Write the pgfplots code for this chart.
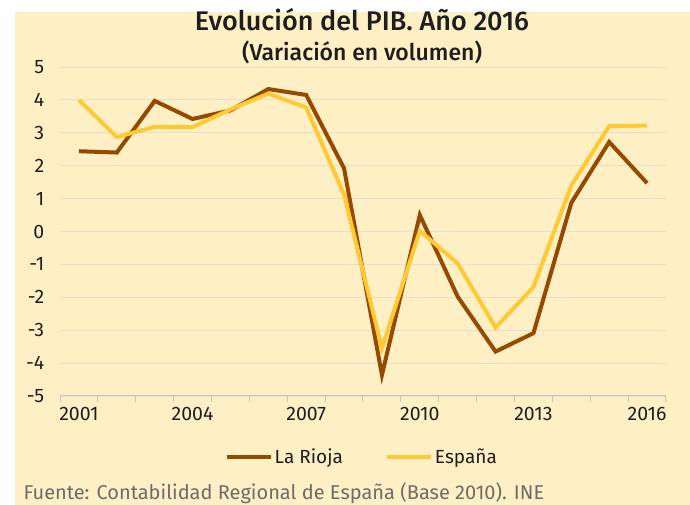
\documentclass[border=0pt]{standalone}
\usepackage{fontspec}
\setmainfont{Fira Sans}
\newfontfamily\titlefont{Fira Sans Medium}
\usepackage{pgfplots}
\pgfplotsset{compat=1.18}
\definecolor{bg}{HTML}{FFEFC4}
\definecolor{rioja}{HTML}{954A00}
\definecolor{espana}{HTML}{FFC933}
\definecolor{gridc}{HTML}{E6DFCD}
\definecolor{txt}{HTML}{1E1E1E}

\begin{document}
\begin{tikzpicture}[x=1pt,y=1pt]
\path[use as bounding box] (0,0) rectangle (690,505);
\fill[bg] (15,0) rectangle (690,493);
\node[txt,font=\titlefont\fontsize{27}{30}\selectfont] at (362,485) {Evolución del PIB. Año 2016};
\node[txt,font=\titlefont\fontsize{23}{26}\selectfont] at (362,453) {(Variación en volumen)};
\node[gray!85!black,anchor=base west,font=\fontsize{20}{22}\selectfont] at (20,5) {Fuente: Contabilidad Regional de España (Base 2010). INE};
\begin{axis}[
    at={(60pt,109pt)}, anchor=south west,
    scale only axis, width=606pt, height=329pt,
    xmin=2000.5, xmax=2016.5, ymin=-5, ymax=5,
    xtick={2001,2004,2007,2010,2013,2016},
    minor xtick={2000.5,2001.5,...,2016.5},
    ytick={-5,-4,...,5},
    axis x line*=bottom, axis y line*=left,
    y axis line style={draw=none},
    x axis line style={draw=gray!45, line width=1pt},
    major x tick style={draw=none},
    minor x tick style={draw=gray!45, line width=1pt},
    minor tick length=6pt, tick align=outside,
    major y tick style={draw=none},
    ymajorgrids, grid style={gridc, line width=0.8pt},
    x tick label style={/pgf/number format/1000 sep={}, yshift=-3pt},
    yticklabel style={xshift=-8pt},
    ticklabel style={font=\fontsize{19.5}{22}\selectfont, txt},
    /pgf/number format/assume math mode=true,
    legend style={at={(0.498,-0.185)}, anchor=center, draw=none, fill=none,
        font=\fontsize{19}{21}\selectfont, text=txt,
        /tikz/every even column/.append style={column sep=40pt}},
    legend columns=2,
    legend image code/.code={\draw[#1] (0pt,0pt) -- (44pt,0pt);},
    clip=false,
]
\addplot[rioja, line width=4pt] coordinates {
 (2001,2.44) (2002,2.40) (2003,3.97) (2004,3.42) (2005,3.68) (2006,4.33)
 (2007,4.15) (2008,1.92) (2009,-4.36) (2010,0.50) (2011,-1.98) (2012,-3.65)
 (2013,-3.09) (2014,0.87) (2015,2.72) (2016,1.47)
};
\addlegendentry{La Rioja}
\addplot[espana, line width=4pt] coordinates {
 (2001,4.00) (2002,2.87) (2003,3.18) (2004,3.17) (2005,3.71) (2006,4.19)
 (2007,3.77) (2008,1.12) (2009,-3.55) (2010,0.02) (2011,-0.97) (2012,-2.92)
 (2013,-1.69) (2014,1.40) (2015,3.20) (2016,3.22)
};
\addlegendentry{España}
\end{axis}
\end{tikzpicture}
\end{document}
